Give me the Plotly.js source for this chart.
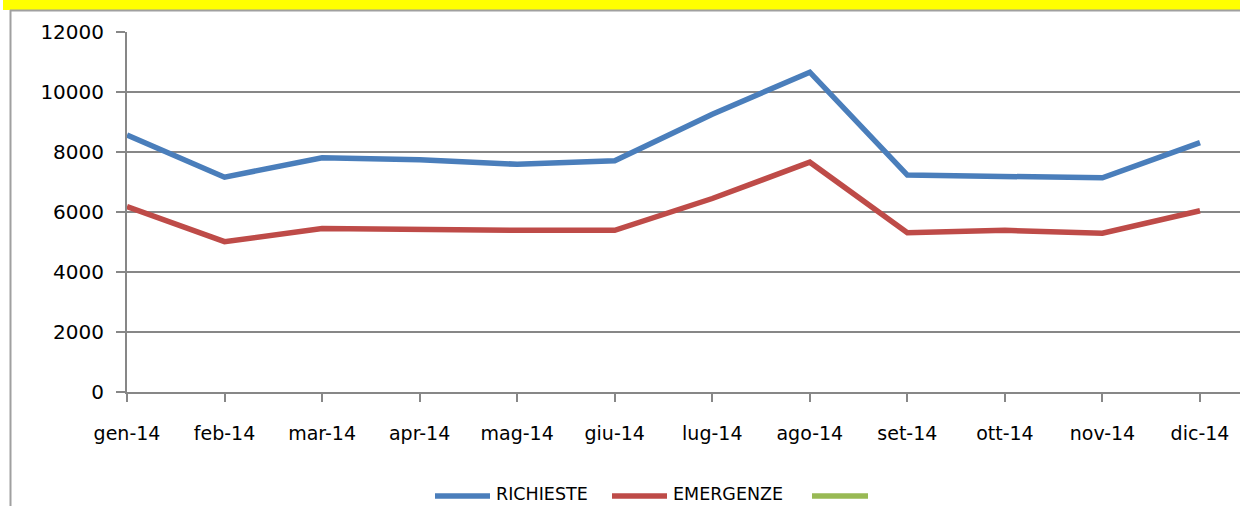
<!DOCTYPE html>
<html>
<head>
<meta charset="utf-8">
<script src="https://cdn.plot.ly/plotly-3.0.1.min.js"></script>
<style>
  html, body { margin: 0; padding: 0; background: #ffffff; }
  #chart { width: 1240px; height: 506px; }
</style>
</head>
<body>
<div id="chart"></div>
<script>
// ---- data ----
const months = ['gen-14','feb-14','mar-14','apr-14','mag-14','giu-14','lug-14','ago-14','set-14','ott-14','nov-14','dic-14'];
const richieste = [8570, 7160, 7810, 7740, 7590, 7710, 9260, 10660, 7230, 7200, 7140, 8310];
const emergenze = [6180, 5010, 5450, 5400, 5390, 5390, 6450, 7660, 5310, 5390, 5290, 6040];
const terzaSerie = [];
const seriesNames = ['RICHIESTE', 'EMERGENZE', ''];
const seriesColors = ['#4A7EBB', '#BE4B48', '#98B954'];
const yTicks = [0, 2000, 4000, 6000, 8000, 10000, 12000];

// ---- layout geometry (pixels) ----
const W = 1240, H = 506;
const L = 127, R = 0, T = 32, B = 114;
const pw = W - L - R, ph = H - T - B;
const px = x => (x - L) / pw;           // pixel -> paper x
const py = y => (H - B - y) / ph;       // pixel -> paper y

const idx = months.map((m, i) => i);

const traces = [
  { x: idx, y: richieste, name: seriesNames[0], type: 'scatter', mode: 'lines',
    line: { color: seriesColors[0], width: 5.5 }, hoverinfo: 'skip', showlegend: false },
  { x: idx, y: emergenze, name: seriesNames[1], type: 'scatter', mode: 'lines',
    line: { color: seriesColors[1], width: 5.5 }, hoverinfo: 'skip', showlegend: false },
  { x: terzaSerie.map((v, i) => i), y: terzaSerie, name: seriesNames[2], type: 'scatter', mode: 'lines',
    line: { color: seriesColors[2], width: 5.5 }, hoverinfo: 'skip', showlegend: false }
];

// custom legend (line swatches + labels)
const legendLineY = py(496);
const legendTextY = py(494);
const legendItems = [
  { x0: 435, x1: 490, tx: 494 },
  { x0: 612, x1: 667, tx: 671 },
  { x0: 812, x1: 868, tx: 872 }
];

const shapes = [
  // yellow title band
  { type: 'rect', xref: 'paper', yref: 'paper', x0: px(3), x1: px(1240), y0: py(0), y1: py(10),
    fillcolor: '#FFFF00', line: { width: 0 }, layer: 'below' },
  // chart frame lines
  { type: 'line', xref: 'paper', yref: 'paper', x0: px(10), x1: px(1240), y0: py(10.5), y1: py(10.5),
    line: { color: '#A0A0A0', width: 2 } },
  { type: 'line', xref: 'paper', yref: 'paper', x0: px(10.5), x1: px(10.5), y0: py(10), y1: py(506),
    line: { color: '#A0A0A0', width: 2 } }
];
const annotations = [];
legendItems.forEach((it, i) => {
  shapes.push({ type: 'line', xref: 'paper', yref: 'paper', x0: px(it.x0), x1: px(it.x1), y0: legendLineY, y1: legendLineY,
    line: { color: seriesColors[i], width: 5.5 } });
  if (seriesNames[i]) {
    annotations.push({ xref: 'paper', yref: 'paper', x: px(it.tx), y: legendTextY, xanchor: 'left', yanchor: 'middle',
      text: seriesNames[i], showarrow: false, font: { family: 'DejaVu Sans', size: 17.5, color: '#000000' } });
  }
});

const layout = {
  width: W, height: H,
  margin: { l: L, r: R, t: T, b: B, pad: 0 },
  paper_bgcolor: '#ffffff', plot_bgcolor: '#ffffff',
  showlegend: false,
  font: { family: 'DejaVu Sans', color: '#000000' },
  xaxis: {
    range: [0, (W - L - R) / ((1200 - 127) / 11)],
    tickmode: 'array', tickvals: idx, ticktext: months,
    showgrid: false, zeroline: false,
    showline: true, linecolor: '#878787', linewidth: 2,
    ticks: 'outside', ticklen: 8, tickwidth: 2, tickcolor: '#878787',
    ticklabelstandoff: 15,
    tickfont: { family: 'DejaVu Sans', size: 19, color: '#000000' },
    fixedrange: true
  },
  yaxis: {
    range: [0, 12000],
    tickmode: 'array', tickvals: yTicks, ticktext: yTicks.map(v => String(v)),
    showgrid: true, gridcolor: '#878787', gridwidth: 2,
    zeroline: false,
    showline: true, linecolor: '#878787', linewidth: 2,
    ticks: 'outside', ticklen: 9, tickwidth: 2, tickcolor: '#878787',
    ticklabelstandoff: 8,
    tickfont: { family: 'DejaVu Sans', size: 20, color: '#000000' },
    fixedrange: true
  },
  shapes: shapes,
  annotations: annotations
};

Plotly.newPlot('chart', traces, layout, { displayModeBar: false, staticPlot: true });
</script>
</body>
</html>
